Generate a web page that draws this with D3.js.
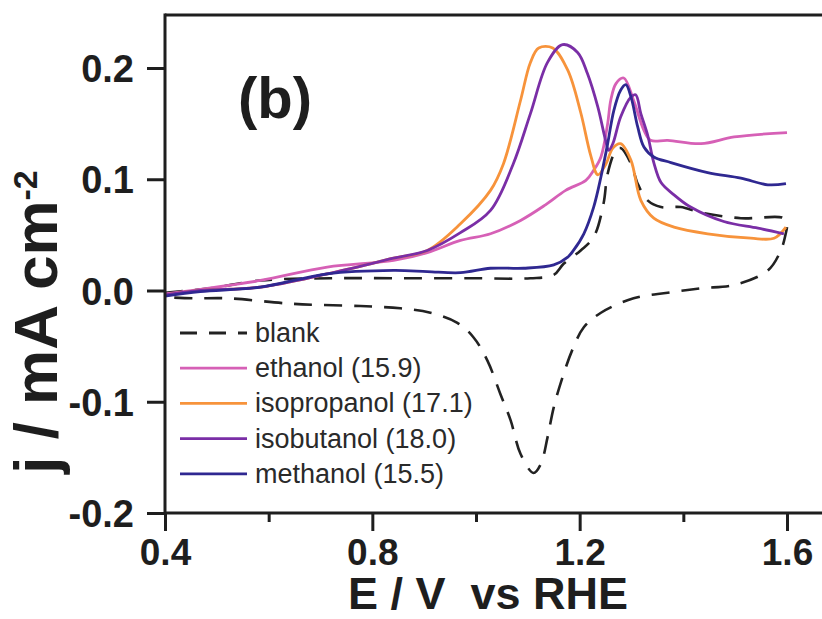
<!DOCTYPE html>
<html>
<head>
<meta charset="utf-8">
<script src="https://cdn.jsdelivr.net/npm/d3@7"></script>
<style>
  html, body { margin: 0; padding: 0; background: #fff; }
  svg { display: block; }
  text { font-family: "Liberation Sans", Arial, Helvetica, sans-serif; }
</style>
</head>
<body>
<svg id="chart" width="822" height="619"></svg>
<script>
// Cyclic voltammograms: potential E (V vs RHE) and current density j (mA cm^-2)

// blank electrolyte, forward then reverse sweep
const blankE = [0.400, 0.487, 0.584, 0.719, 0.854, 1.000, 1.105, 1.150, 1.169, 1.202, 1.227, 1.246, 1.254, 1.270, 1.279, 1.299, 1.312, 1.331, 1.357, 1.395, 1.434, 1.511, 1.594, 1.600,
                1.597, 1.588, 1.563, 1.498, 1.434, 1.370, 1.304, 1.241, 1.208, 1.188, 1.169, 1.150, 1.138, 1.125, 1.111, 1.086, 1.067, 1.047, 1.022, 0.995, 0.964, 0.912, 0.854, 0.777, 0.647, 0.520, 0.454, 0.400];
const blankJ = [-0.002, 0.002, 0.009, 0.011, 0.011, 0.011, 0.011, 0.014, 0.024, 0.036, 0.048, 0.078, 0.105, 0.126, 0.128, 0.114, 0.096, 0.081, 0.075, 0.075, 0.070, 0.065, 0.065, 0.060,
                0.050, 0.036, 0.018, 0.005, 0.002, -0.002, -0.007, -0.020, -0.033, -0.051, -0.075, -0.105, -0.132, -0.156, -0.164, -0.147, -0.117, -0.093, -0.063, -0.042, -0.029, -0.020, -0.016, -0.014, -0.012, -0.007, -0.007, -0.006];

const ethanolE = [0.400, 0.468, 0.584, 0.713, 0.841, 0.906, 0.970, 1.028, 1.086, 1.134, 1.173, 1.212, 1.227, 1.241, 1.254, 1.260, 1.270, 1.285, 1.304, 1.324, 1.337, 1.370, 1.434, 1.498, 1.600];
const ethanolJ = [-0.003, 0.001, 0.009, 0.021, 0.027, 0.034, 0.045, 0.051, 0.063, 0.077, 0.090, 0.099, 0.108, 0.120, 0.150, 0.171, 0.186, 0.191, 0.171, 0.144, 0.135, 0.135, 0.132, 0.138, 0.142];

const isopropanolE = [0.400, 0.468, 0.584, 0.713, 0.841, 0.906, 0.970, 1.028, 1.053, 1.086, 1.105, 1.121, 1.148, 1.177, 1.202, 1.221, 1.235, 1.250, 1.264, 1.279, 1.299, 1.318, 1.343, 1.382, 1.447, 1.530, 1.575, 1.598];
const isopropanolJ = [-0.004, 0.000, 0.003, 0.015, 0.029, 0.036, 0.060, 0.090, 0.114, 0.171, 0.205, 0.218, 0.218, 0.198, 0.160, 0.122, 0.104, 0.113, 0.128, 0.132, 0.117, 0.081, 0.065, 0.057, 0.051, 0.047, 0.047, 0.057];

const isobutanolE = [0.400, 0.468, 0.584, 0.713, 0.841, 0.906, 0.970, 1.028, 1.072, 1.105, 1.138, 1.167, 1.196, 1.215, 1.235, 1.250, 1.256, 1.264, 1.279, 1.299, 1.308, 1.318, 1.331, 1.343, 1.357, 1.382, 1.414, 1.478, 1.544, 1.594];
const isobutanolJ = [-0.004, 0.000, 0.003, 0.015, 0.029, 0.036, 0.052, 0.072, 0.114, 0.159, 0.205, 0.221, 0.214, 0.195, 0.165, 0.135, 0.126, 0.132, 0.156, 0.174, 0.176, 0.159, 0.140, 0.115, 0.097, 0.086, 0.075, 0.062, 0.056, 0.051];

const methanolE = [0.400, 0.468, 0.584, 0.713, 0.841, 0.906, 0.970, 1.028, 1.092, 1.150, 1.177, 1.188, 1.208, 1.227, 1.241, 1.254, 1.266, 1.279, 1.289, 1.299, 1.312, 1.324, 1.343, 1.376, 1.447, 1.511, 1.563, 1.598];
const methanolJ = [-0.005, -0.001, 0.003, 0.015, 0.018, 0.017, 0.016, 0.020, 0.020, 0.023, 0.030, 0.036, 0.051, 0.075, 0.102, 0.132, 0.162, 0.180, 0.185, 0.174, 0.147, 0.129, 0.120, 0.115, 0.106, 0.101, 0.095, 0.096];

const seriesNames = ["blank", "ethanol (15.9)", "isopropanol (17.1)", "isobutanol (18.0)", "methanol (15.5)"];
const seriesColors = ["#222222", "#d660b6", "#f7933b", "#7a2ea6", "#2f2891"];

const xMajorTicks = [0.4, 0.8, 1.2, 1.6];
const xMinorTicks = [0.6, 1.0, 1.4];
const yTicks = [-0.2, -0.1, 0.0, 0.1, 0.2];

const xLabel = "E / V  vs RHE";
const yLabel = "j / mA cm";
const yLabelSup = "-2";
const panelTag = "(b)";

// ---- layout ----
const svg = d3.select("#chart");
const W = 822, H = 619;
const plotLeft = 165, plotBottom = 513, plotTop = 15;

const x = d3.scaleLinear().domain([0.4, 1.6]).range([plotLeft, 787]);
const y = d3.scaleLinear().domain([-0.2, 0.2]).range([plotBottom, 68]);

const frameColor = "#1e1e1e";

// curves
const series = [
  { name: seriesNames[0], color: seriesColors[0], dash: "18,12", E: blankE, J: blankJ },
  { name: seriesNames[1], color: seriesColors[1], dash: null, E: ethanolE, J: ethanolJ },
  { name: seriesNames[2], color: seriesColors[2], dash: null, E: isopropanolE, J: isopropanolJ },
  { name: seriesNames[3], color: seriesColors[3], dash: null, E: isobutanolE, J: isobutanolJ },
  { name: seriesNames[4], color: seriesColors[4], dash: null, E: methanolE, J: methanolJ }
];

const line = d3.line()
  .x(d => x(d[0]))
  .y(d => y(d[1]))
  .curve(d3.curveCatmullRom.alpha(0.5));

svg.append("g").selectAll("path")
  .data(series)
  .join("path")
  .attr("d", s => line(s.E.map((e, k) => [e, s.J[k]])))
  .attr("fill", "none")
  .attr("stroke", s => s.color)
  .attr("stroke-width", s => s.dash ? 2.6 : 2.8)
  .attr("stroke-dasharray", s => s.dash)
  .attr("stroke-linejoin", "round");

// frame lines (left, top, bottom; the right side runs off the canvas)
const frame = svg.append("g").attr("stroke", frameColor).attr("stroke-width", 3).attr("fill", "none");
frame.append("line").attr("x1", plotLeft).attr("x2", plotLeft).attr("y1", plotTop - 1.5).attr("y2", plotBottom + 1.5);
frame.append("line").attr("x1", plotLeft).attr("x2", W).attr("y1", plotTop).attr("y2", plotTop);
frame.append("line").attr("x1", plotLeft).attr("x2", W).attr("y1", plotBottom).attr("y2", plotBottom);

// y axis
const yAxis = d3.axisLeft(y)
  .tickValues(yTicks)
  .tickSize(18)
  .tickSizeOuter(0)
  .tickPadding(13)
  .tickFormat(d => d.toFixed(1));
const gy = svg.append("g").attr("transform", `translate(${plotLeft},0)`).call(yAxis);
gy.select(".domain").remove();
gy.selectAll(".tick line").attr("stroke", frameColor).attr("stroke-width", 3);
gy.selectAll(".tick text")
  .attr("fill", "#1e1e1e")
  .style("font-size", "38px")
  .style("font-weight", "bold")
  .attr("dy", "0.36em");

// x axis: major ticks with labels, minor ticks without
const xAxis = d3.axisBottom(x)
  .tickValues(xMajorTicks)
  .tickSize(18)
  .tickSizeOuter(0)
  .tickPadding(8)
  .tickFormat(d => d.toFixed(1));
const gx = svg.append("g").attr("transform", `translate(0,${plotBottom})`).call(xAxis);
gx.select(".domain").remove();
gx.selectAll(".tick line").attr("stroke", frameColor).attr("stroke-width", 3);
gx.selectAll(".tick text")
  .attr("fill", "#1e1e1e")
  .style("font-size", "37px")
  .style("font-weight", "bold");

const xMinor = d3.axisBottom(x).tickValues(xMinorTicks).tickSize(9).tickSizeOuter(0).tickFormat("");
const gxm = svg.append("g").attr("transform", `translate(0,${plotBottom})`).call(xMinor);
gxm.select(".domain").remove();
gxm.selectAll(".tick line").attr("stroke", frameColor).attr("stroke-width", 3);

// axis titles
svg.append("text")
  .attr("x", 488).attr("y", 609)
  .attr("text-anchor", "middle")
  .attr("fill", "#1e1e1e")
  .style("font-size", "45px")
  .style("font-weight", "bold")
  .style("white-space", "pre")
  .text(xLabel);

const yt = svg.append("text")
  .attr("transform", "translate(57,322) rotate(-90)")
  .attr("text-anchor", "middle")
  .attr("fill", "#1e1e1e")
  .style("font-size", "62px")
  .style("font-weight", "bold");
yt.append("tspan").text(yLabel);
yt.append("tspan").attr("dy", "-0.6em").style("font-size", "34px").text(yLabelSup);

// panel tag
svg.append("text")
  .attr("x", 238).attr("y", 118)
  .attr("fill", "#1e1e1e")
  .style("font-size", "58px")
  .style("font-weight", "bold")
  .text(panelTag);

// legend
const legend = svg.append("g");
const rowY = i => 333 + i * 35.2;
series.forEach((s, i) => {
  legend.append("line")
    .attr("x1", 180).attr("x2", 247)
    .attr("y1", rowY(i)).attr("y2", rowY(i))
    .attr("stroke", s.color)
    .attr("stroke-width", 2.8)
    .attr("stroke-dasharray", s.dash ? "17,12" : null);
  legend.append("text")
    .attr("x", 255).attr("y", rowY(i) + 9)
    .attr("fill", "#2a2a2a")
    .style("font-size", "27px")
    .text(s.name);
});
</script>
</body>
</html>
